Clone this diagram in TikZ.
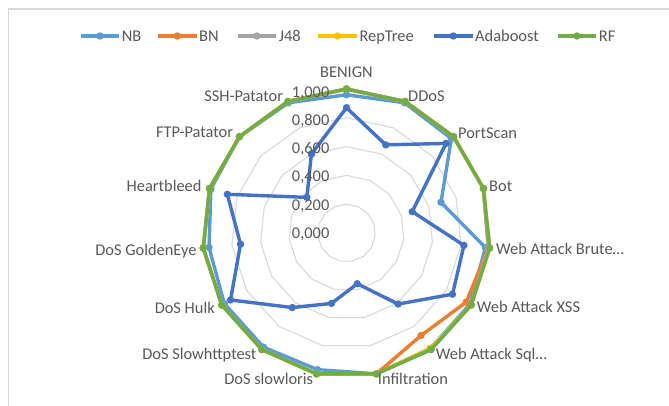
\documentclass[tikz,border=0pt]{standalone}
\usepackage{fontspec}
\setmainfont{Carlito}
\definecolor{nbc}{HTML}{5B9BD5}
\definecolor{bnc}{HTML}{ED7D31}
\definecolor{j48c}{HTML}{A5A5A5}
\definecolor{rtc}{HTML}{FFC000}
\definecolor{adac}{HTML}{4472C4}
\definecolor{rfc}{HTML}{70AD47}
\definecolor{gridc}{HTML}{D9D9D9}
\definecolor{txtc}{HTML}{595959}
\newcommand\mr{3.7pt}
% one radar series: colour, value on the first axis, values on axes 2..15
\newcommand\radarline[3]{%
  \draw[serieline, draw=#1] (90:#2) \foreach \v [count=\k] in {#3} { -- (90-24*\k:\v) } -- cycle;
  \fill[#1] (90:#2) circle[radius=\mr];
  \foreach \v [count=\k] in {#3} \fill[#1] (90-24*\k:\v) circle[radius=\mr];
}
\tikzset{
  serieline/.style={line width=3.4pt, line join=round, line cap=round},
  legline/.style={line width=3.4pt},
  gridring/.style={draw=gridc, line width=1.1pt},
  lbl/.style={inner sep=0pt, text=txtc, font=\fontsize{16.4}{19}\selectfont},
  frame/.style={draw=gridc, line width=1.3pt}
}
\begin{document}
\begin{tikzpicture}[x=1pt, y=1pt]
\useasboundingbox (0,0) rectangle (669,-405);
\fill[white] (0,0) rectangle (669,-405);
% chart area border
\draw[frame] (670,-9) -- (8.5,-9) -- (8.5,-406);

% legend
\foreach \c/\xs/\name in {nbc/80.7/NB, bnc/158/BN, j48c/237.7/J48, rtc/318.3/RepTree, adac/434/Adaboost, rfc/557.7/RF} {
  \draw[legline, draw=\c] (\xs,-36) -- ++(38.5,0);
  \fill[\c] (\xs+19.25,-36) circle[radius=\mr];
  \node[lbl, anchor=base west] (leg-\name) at (\xs+41,-41.5) {\name};
}

\begin{scope}[shift={(346.5,-233)}, x=144pt, y=144pt]
  % gridline rings
  \foreach \r in {0.2,0.4,0.6,0.8,1.0}
    \draw[gridring] (90:\r) \foreach \k in {1,...,14} { -- (90-24*\k:\r) } -- cycle;

  % series
  \radarline{nbc}{0.96}{0.99,0.98,0.69,0.97,0.99,0.99,1.0,0.97,0.98,0.98,0.96,0.99,1.0,0.99}
  \radarline{bnc}{1.0}{1.0,1.0,1.0,0.99,0.96,0.88,1.0,1.0,1.0,1.0,1.0,1.0,1.0,1.0}
  \radarline{j48c}{1.0}{1.0,1.0,1.0,0.99,1.0,1.0,1.0,1.0,1.0,1.0,1.0,1.0,1.0,1.0}
  \radarline{rtc}{1.0}{1.0,1.0,1.0,1.0,1.0,0.99,1.0,1.0,1.0,1.0,1.0,1.0,1.0,1.0}
  \radarline{adac}{0.87}{0.67,0.93,0.48,0.82,0.85,0.61,0.36,0.50,0.64,0.93,0.74,0.87,0.37,0.60}
  \radarline{rfc}{1.0}{1.0,1.0,1.0,1.0,1.0,1.0,1.0,1.0,1.0,1.0,1.0,1.0,1.0,1.0}
\end{scope}

% value axis labels
\foreach \yy/\t [count=\i] in {92/{1,000}, 120/{0,800}, 148/{0,600}, 176/{0,400}, 205/{0,200}, 233/{0,000}}
  \node[lbl, anchor=base east] (val-\i) at (329.5,-\yy-5.5) {\t};

% category labels
\node[lbl, anchor=base] (c-benign) at (346.5,-77) {BENIGN};
\node[lbl, anchor=base west] (c-ddos) at (408,-101) {DDoS};
\node[lbl, anchor=base west] (c-port) at (458,-138) {PortScan};
\node[lbl, anchor=base west] (c-bot) at (489,-191.5) {Bot};
\node[lbl, anchor=base west] (c-brute) at (496,-254) {Web Attack Brute…};
\node[lbl, anchor=base west] (c-xss) at (476.7,-312) {Web Attack XSS};
\node[lbl, anchor=base west] (c-sql) at (435.7,-359) {Web Attack Sql…};
\node[lbl, anchor=base west] (c-infil) at (377.7,-384) {Infiltration};
\node[lbl, anchor=base east] (c-slowloris) at (313.3,-384) {DoS slowloris};
\node[lbl, anchor=base east] (c-slowhttp) at (256.7,-359) {DoS Slowhttptest};
\node[lbl, anchor=base east] (c-hulk) at (215,-313) {DoS Hulk};
\node[lbl, anchor=base east] (c-golden) at (196.7,-255) {DoS GoldenEye};
\node[lbl, anchor=base east] (c-heart) at (201.7,-191) {Heartbleed};
\node[lbl, anchor=base east] (c-ftp) at (233.3,-137.7) {FTP-Patator};
\node[lbl, anchor=base east] (c-ssh) at (283.3,-101) {SSH-Patator};
\end{tikzpicture}
\end{document}
